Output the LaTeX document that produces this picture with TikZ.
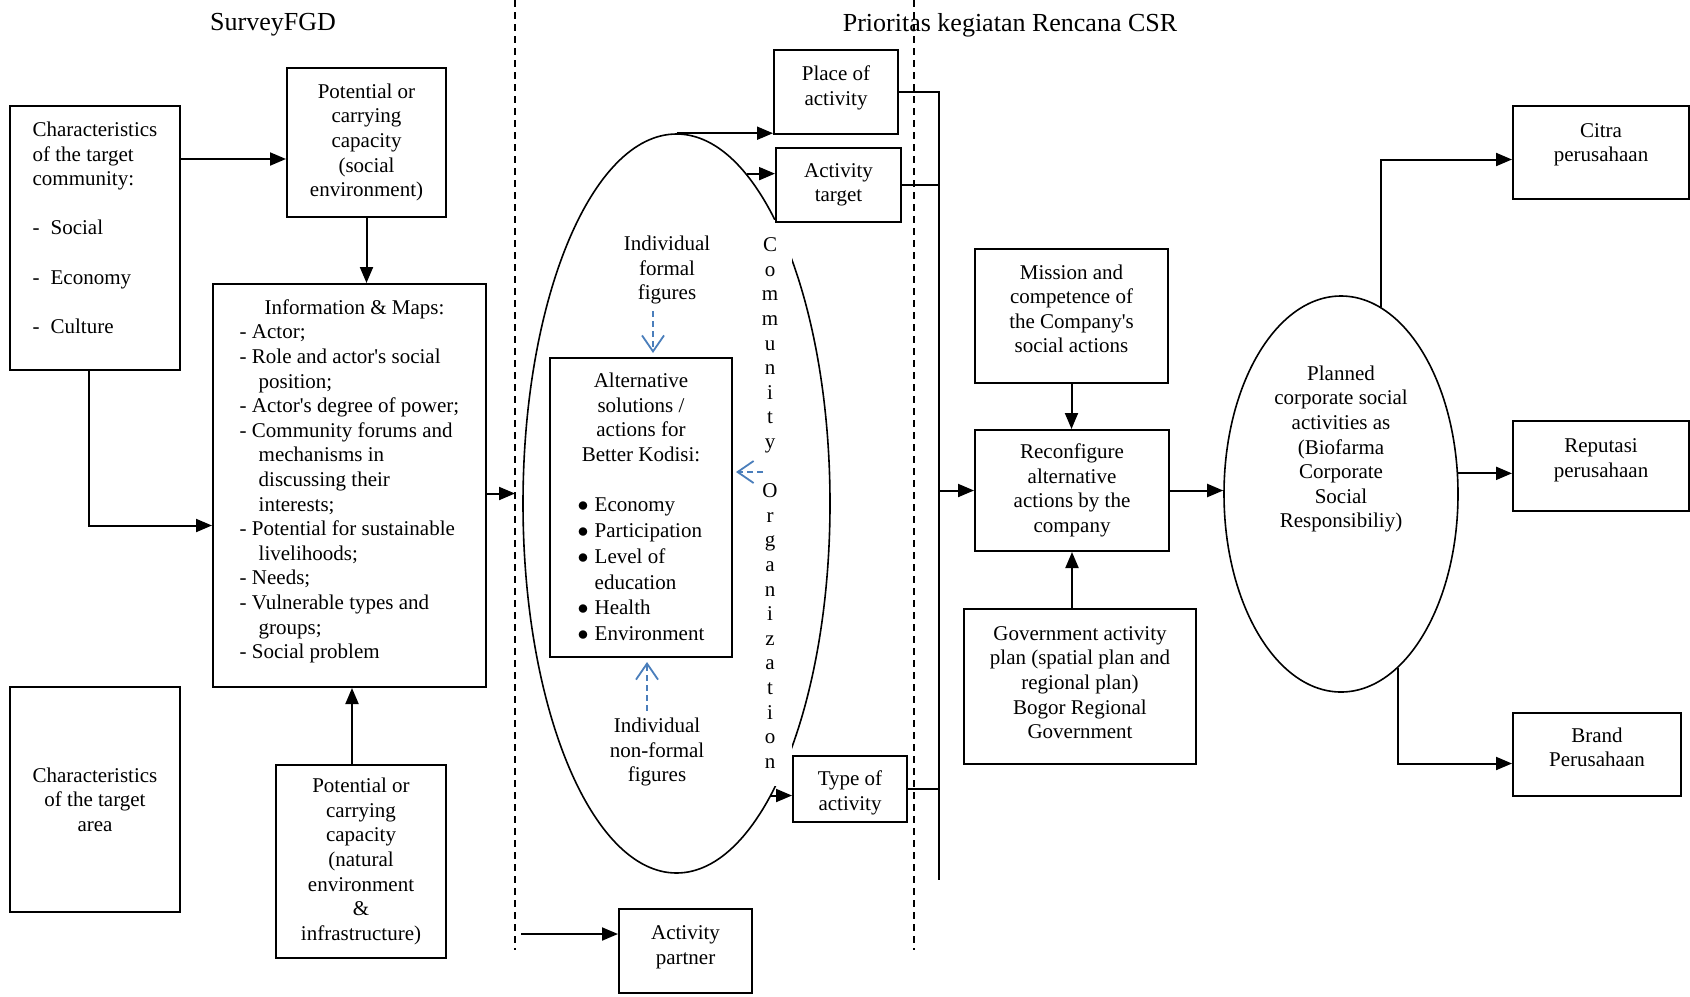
\documentclass[tikz,border=0pt]{standalone}
\usepackage{fontspec}
\setmainfont{Liberation Serif}
\usetikzlibrary{arrows.meta, positioning, calc, shapes.geometric}
\definecolor{figblue}{HTML}{4A7EBB}
\newcommand{\altbullet}{\makebox[8.5pt][l]{$\bullet$}}
% box text raised a little inside its frame
\newcommand{\liftc}[2]{\raisebox{#1}[\height][\depth]{\begin{tabular}{@{}c@{}}#2\end{tabular}}}
\newcommand{\liftl}[2]{\raisebox{#1}[\height][\depth]{\begin{tabular}{@{}l@{}}#2\end{tabular}}}

\begin{document}
\begin{tikzpicture}[x=0.5pt, y=-0.5pt,
  font=\fontsize{10.5pt}{12.3pt}\selectfont,
  box/.style={draw, line width=1pt, fill=white, align=center, inner sep=2pt},
  oval/.style={ellipse, draw, line width=0.8pt, inner sep=0pt},
  arr/.style={line width=1pt, -{Triangle[length=8pt, width=6.5pt]}},
  link/.style={line width=0.9pt},
  divider/.style={line width=0.8pt, dash pattern=on 3.5pt off 2.5pt},
  hint/.style={figblue, line width=0.9pt, dash pattern=on 3pt off 2pt,
    -{Straight Barb[length=8pt, width=11pt]}},
  title/.style={font=\fontsize{13pt}{15pt}\selectfont}]
  \useasboundingbox (0,0) rectangle (1690,996);

  % Section titles
  \node[title] (survey) at (273,25) {SurveyFGD};
  \node[title] (prior) at (1010,25) {Prioritas kegiatan Rencana CSR};

  % Dashed separators
  \coordinate (sepA) at (515,0);
  \coordinate (sepAend) at (515,950);
  \coordinate (sepB) at (914,0);
  \coordinate (sepBend) at (914,950);
  \draw[divider] (sepA) -- (sepAend);
  \draw[divider] (sepB) -- (sepBend);

  % Survey / FGD column
  \node[box, minimum width=85pt, minimum height=132pt] (comm) at (95,238)
    {\liftl{4pt}{Characteristics\\of the target\\community:\\[12.3pt]\makebox[9pt][l]{-}Social\\[12.3pt]\makebox[9pt][l]{-}Economy\\[12.3pt]\makebox[9pt][l]{-}Culture}};
  \node[box, minimum width=85pt, minimum height=112.5pt] (area) at (95,799.5)
    {Characteristics\\of the target\\area};
  \node[box, minimum width=79.5pt, minimum height=74.5pt] (pots) at (366.5,142.5)
    {Potential or\\carrying\\capacity\\(social\\environment)};
  \node[box, minimum width=136.5pt, minimum height=201.5pt] (info) at (349.5,485.5)
    {\liftl{2pt}{\hspace*{12.5pt}Information \& Maps:\\
     - Actor;\\
     - Role and actor\textquotesingle s social\\
     \hspace*{9.5pt}position;\\
     - Actor\textquotesingle s degree of power;\\
     - Community forums and\\
     \hspace*{9.5pt}mechanisms in\\
     \hspace*{9.5pt}discussing their\\
     \hspace*{9.5pt}interests;\\
     - Potential for sustainable\\
     \hspace*{9.5pt}livelihoods;\\
     - Needs;\\
     - Vulnerable types and\\
     \hspace*{9.5pt}groups;\\
     - Social problem}};
  \node[box, minimum width=85pt, minimum height=96.5pt] (potn) at (361,861.5)
    {Potential or\\carrying\\capacity\\(natural\\environment\\\&\\infrastructure)};

  % Community organization oval
  \node[oval, minimum width=153.5pt, minimum height=369.5pt] (ell1) at (676.5,503.5) {};
  \node[fill=white, inner sep=0pt, align=center, minimum width=22pt, minimum height=283pt] (commorg) at (770,503)
    {C\\o\\m\\m\\u\\n\\i\\t\\y\\[12.3pt]O\\r\\g\\a\\n\\i\\z\\a\\t\\i\\o\\n};
  \node[box, minimum width=91pt, minimum height=149.5pt] (alt) at (641,507.5)
    {\liftc{-1pt}{Alternative\\solutions /\\actions for\\Better Kodisi:\\[12.3pt]
     \renewcommand{\arraystretch}{1.05}%
     \begin{tabular}[t]{@{}l@{}}\altbullet Economy\\\altbullet Participation\\\altbullet Level of\\\hspace*{8.5pt}education\\\altbullet Health\\\altbullet Environment\end{tabular}}};
  \node[align=center] (formal) at (667,270) {Individual\\formal\\figures};
  \node[align=center] (nonformal) at (657,752) {Individual\\non-formal\\figures};

  \node[box, minimum width=62pt, minimum height=42pt] (place) at (836,92) {\liftc{2pt}{Place of\\activity}};
  \node[box, minimum width=62.5pt, minimum height=37pt] (target) at (838.5,185) {Activity\\target};
  \node[box, minimum width=57pt, minimum height=33pt] (type) at (850,789) {\liftc{-2pt}{Type of\\activity}};
  \node[box, minimum width=66.5pt, minimum height=42pt] (partner) at (685.5,951) {\liftc{2pt}{Activity\\partner}};

  % CSR plan column
  \node[box, minimum width=96.5pt, minimum height=67pt] (mission) at (1071.5,316)
    {\liftc{2.5pt}{Mission and\\competence of\\the Company\textquotesingle s\\social actions}};
  \node[box, minimum width=97pt, minimum height=60.5pt] (reconf) at (1072,490.5)
    {Reconfigure\\alternative\\actions by the\\company};
  \node[box, minimum width=116pt, minimum height=77.5pt] (gov) at (1080,686.5)
    {\liftc{1pt}{Government activity\\plan (spatial plan and\\regional plan)\\Bogor Regional\\Government}};
  \node[oval, minimum width=117pt, minimum height=198pt] (ell2) at (1341,494) {};
  \node[align=center] (csr) at (1341,449)
    {Planned\\corporate social\\activities as\\(Biofarma\\Corporate\\Social\\Responsibiliy)};
  \node[box, minimum width=88pt, minimum height=46.5pt] (citra) at (1601,152.5) {\liftc{4pt}{Citra\\perusahaan}};
  \node[box, minimum width=88pt, minimum height=45pt] (repu) at (1601,466) {\liftc{3pt}{Reputasi\\perusahaan}};
  \node[box, minimum width=84pt, minimum height=41.5pt] (brand) at (1597,754.5) {\liftc{2.5pt}{Brand\\Perusahaan}};

  % Connectors, left column
  \coordinate (commout) at ([yshift=-27pt]comm.north east);
  \draw[arr] (commout) -- (commout -| pots.west);
  \draw[arr] (pots.south) -- (pots.south |- info.north);
  \coordinate (commdown) at ([xshift=-3pt]comm.south);
  \coordinate (infoin) at ([yshift=-20pt]info.west);
  \draw[arr] (commdown) |- (infoin);
  \coordinate (potnup) at ([xshift=-4.5pt]potn.north);
  \draw[arr] (potnup) -- (potnup |- info.south);
  \coordinate (infoout) at ([yshift=-4pt]info.east);
  \draw[arr] (infoout) -- (infoout -| sepA);
  \coordinate (partnerin) at ([yshift=8.5pt]partner.west);
  \coordinate (partnerfrom) at (521,934);
  \draw[arr] (partnerfrom) -- (partnerin);

  % Connectors, oval
  \draw[arr] (ell1.north) -- (ell1.north -| place.west);
  \draw[arr] (ell1.78) -- (ell1.78 -| target.west);
  \draw[arr] (ell1.-72) -- (ell1.-72 -| type.west);
  \coordinate (formalout) at ([xshift=-7pt]formal.south);
  \draw[hint, shorten >=2pt] (formalout) -- (formalout |- alt.north);
  \coordinate (coin) at ([xshift=-3.5pt, yshift=15.5pt]commorg.center);
  \draw[hint, shorten >=1.5pt] (coin) -- (coin -| alt.east);
  \coordinate (nonformalout) at ([xshift=-5pt]nonformal.north);
  \draw[hint, shorten >=2pt] (nonformalout) -- (nonformalout |- alt.south);

  % Bus to the CSR plan
  \coordinate (busend) at (939,880);
  \draw[link] (place.east) -| (busend);
  \draw[link] (target.east) -- (target.east -| busend);
  \draw[link] (type.east) -- (type.east -| busend);
  \draw[arr] (reconf.west -| busend) -- (reconf.west);

  % Connectors, CSR plan
  \draw[arr] (mission.south) -- (mission.south |- reconf.north);
  \draw[arr] (reconf.south |- gov.north) -- (reconf.south);
  \draw[arr] (reconf.east) -- (reconf.east -| ell2.west);
  \coordinate (citrain) at ([yshift=-3.5pt]citra.west);
  \draw[arr] (ell2.78) |- (citrain);
  \draw[arr] (ell2.10) -- (ell2.10 -| repu.west);
  \coordinate (brandin) at ([yshift=-4.5pt]brand.west);
  \draw[arr] (ell2.-72) |- (brandin);
\end{tikzpicture}
\end{document}
